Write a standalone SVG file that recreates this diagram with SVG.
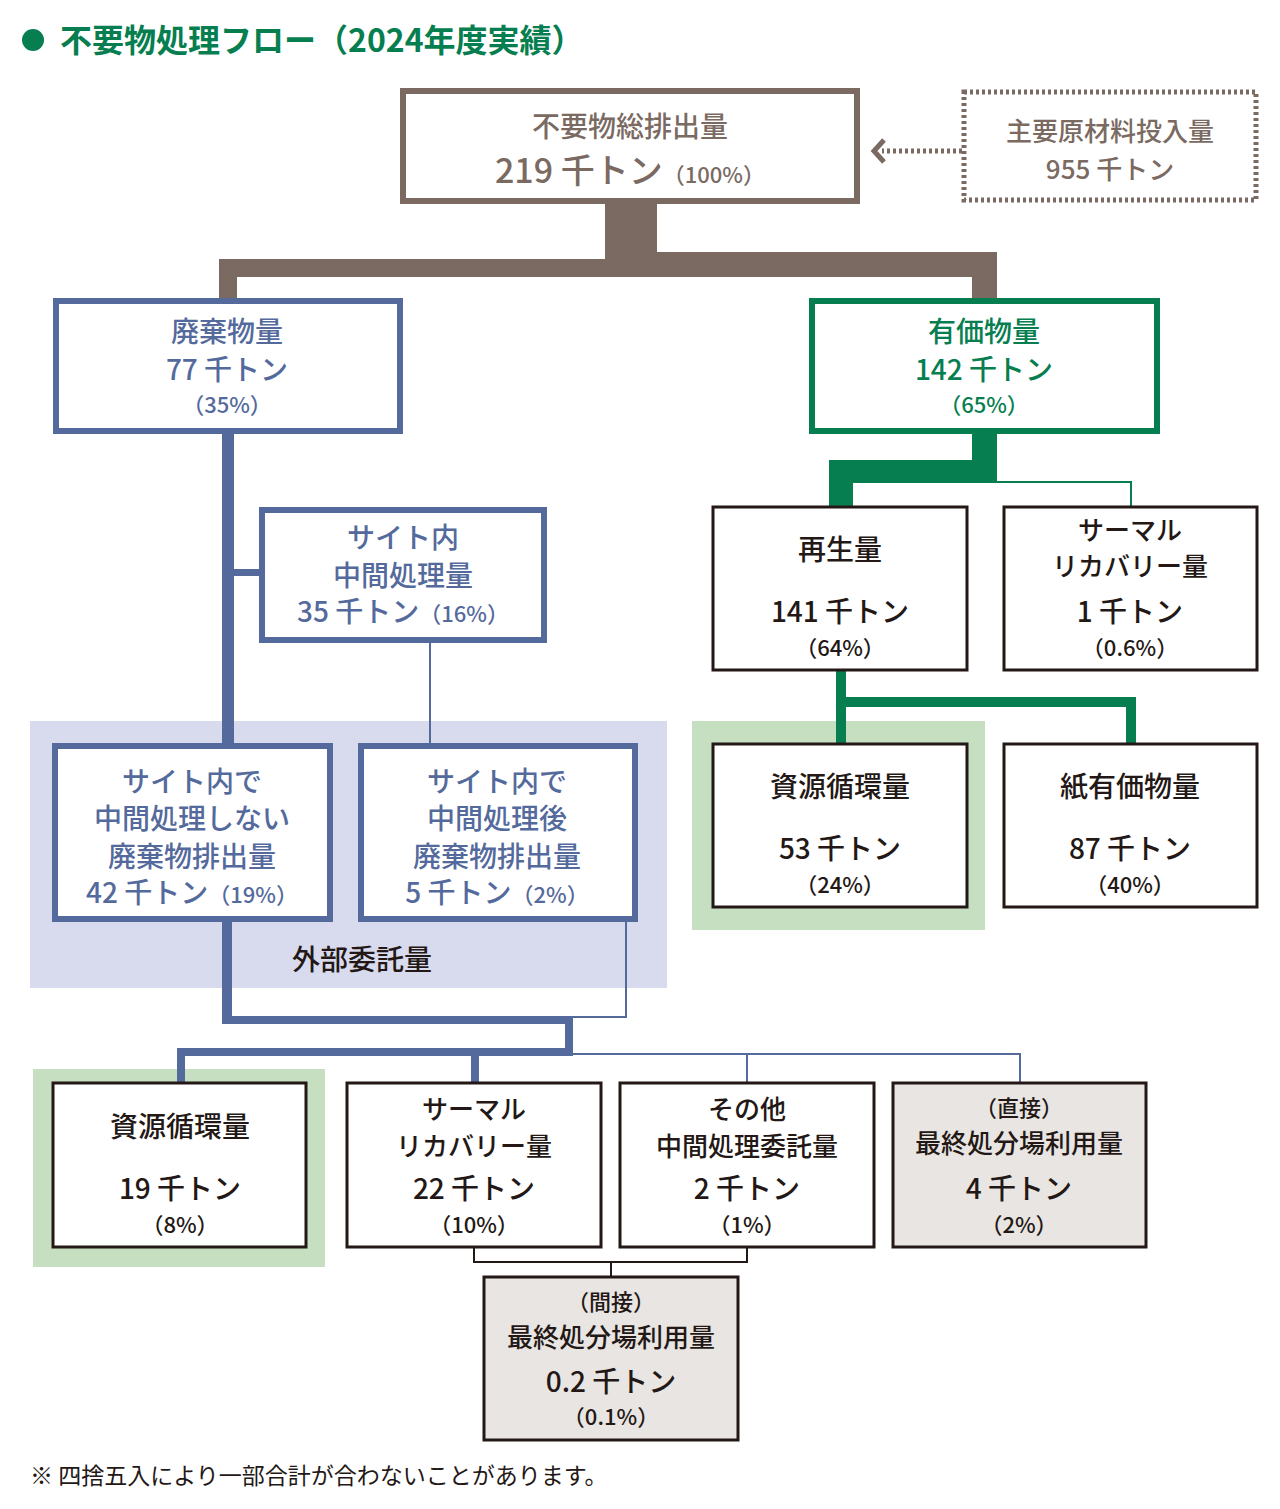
<svg xmlns="http://www.w3.org/2000/svg" width="1280" height="1509" viewBox="0 0 1280 1509">
<style>
text{font-family:"Noto Sans CJK JP","Noto Sans",sans-serif;text-anchor:middle;font-size:28px;font-weight:500}
.br{fill:#7a6a62}.bl{fill:#556a9c}.gr{fill:#067e4f}.dk{fill:#231815}
.s{font-size:22px}
.t{font-size:26px}
.bx{fill:#fff;stroke:#231815;stroke-width:3}
.gy{fill:#e8e5e2;stroke:#231815;stroke-width:3}
</style>
<rect width="1280" height="1509" fill="#fff"/>
<g id="title"><circle cx="33" cy="40" r="11" fill="#067e4f"/><text x="60" y="52" class="gr" style="text-anchor:start;font-size:32px;font-weight:700">不要物処理フロー（2024年度実績）</text></g>
<g id="bgs"><rect x="30" y="721" width="637" height="267" fill="#d8dbee"/><rect x="692" y="721" width="293" height="209" fill="#c5dfc0"/><rect x="33" y="1069" width="292" height="198" fill="#c5dfc0"/></g>
<g id="connectors">
<polygon class="br" points="605,203 657,203 657,252 997,252 997,298 972,298 972,277 237,277 237,298 219,298 219,259 605,259"/>
<line x1="962" y1="151" x2="882" y2="151" stroke="#7a6a62" stroke-width="5" stroke-dasharray="3 3"/>
<polyline points="884,140 874,151 884,162" fill="none" stroke="#7a6a62" stroke-width="5"/>
<rect class="bl" x="222" y="432" width="12" height="312"/>
<rect class="bl" x="234" y="569" width="26" height="7"/>
<line x1="430" y1="641" x2="430" y2="744" stroke="#556a9c" stroke-width="2"/>
<polygon class="bl" points="222,920 232,920 232,1016 573,1016 573,1056 185,1056 185,1083 177,1083 177,1048 565,1048 565,1024 222,1024"/>
<polyline points="626,920 626,1017 573,1017" fill="none" stroke="#556a9c" stroke-width="2"/>
<rect class="bl" x="471" y="1052" width="8" height="31"/>
<polyline points="573,1054 1020,1054 1020,1083" fill="none" stroke="#556a9c" stroke-width="2"/>
<line x1="747" y1="1054" x2="747" y2="1083" stroke="#556a9c" stroke-width="2"/>
<polygon class="gr" points="972,432 997,432 997,483 853,483 853,507 829,507 829,460 972,460"/>
<polyline points="997,482 1131,482 1131,507" fill="none" stroke="#067e4f" stroke-width="2"/>
<polygon class="gr" points="836,670 846,670 846,697 1136,697 1136,744 1126,744 1126,707 846,707 846,744 836,744"/>
<polyline points="474,1247 474,1262 747,1262 747,1247" fill="none" stroke="#231815" stroke-width="2"/>
<line x1="611" y1="1262" x2="611" y2="1277" stroke="#231815" stroke-width="2"/>
</g>
<g id="total"><rect x="403" y="91" width="454" height="110" fill="#fff" stroke="#7a6a62" stroke-width="6"/><text x="630" y="137" class="br">不要物総排出量</text><text x="630" y="183" class="br" style="font-size:34px">219 千トン<tspan class="s">（100%）</tspan></text></g>
<g id="input"><rect x="964" y="92" width="292" height="108" fill="#fff" stroke="#7a6a62" stroke-width="5" stroke-dasharray="3 3"/><text x="1110" y="141" class="br t">主要原材料投入量</text><text x="1110" y="179" class="br t">955 千トン</text></g>
<g id="waste"><rect x="56" y="301" width="344" height="130" fill="#fff" stroke="#556a9c" stroke-width="6"/><text x="227" y="342" class="bl">廃棄物量</text><text x="227" y="380" class="bl">77 千トン</text><text x="227" y="413" class="bl s">（35%）</text></g>
<g id="valuable"><rect x="812" y="301" width="345" height="130" fill="#fff" stroke="#067e4f" stroke-width="6"/><text x="984" y="342" class="gr">有価物量</text><text x="984" y="380" class="gr">142 千トン</text><text x="984" y="413" class="gr s">（65%）</text></g>
<g id="onsite"><rect x="262" y="510" width="282" height="130" fill="#fff" stroke="#556a9c" stroke-width="6"/><text x="403" y="548" class="bl">サイト内</text><text x="403" y="586" class="bl">中間処理量</text><text x="403" y="622" class="bl">35 千トン<tspan class="s">（16%）</tspan></text></g>
<g id="nonproc"><rect x="55" y="746" width="275" height="173" fill="#fff" stroke="#556a9c" stroke-width="6"/><text x="192" y="792" class="bl">サイト内で</text><text x="192" y="829" class="bl">中間処理しない</text><text x="192" y="867" class="bl">廃棄物排出量</text><text x="192" y="903" class="bl">42 千トン<tspan class="s">（19%）</tspan></text></g>
<g id="postproc"><rect x="361" y="746" width="274" height="173" fill="#fff" stroke="#556a9c" stroke-width="6"/><text x="497" y="792" class="bl">サイト内で</text><text x="497" y="829" class="bl">中間処理後</text><text x="497" y="867" class="bl">廃棄物排出量</text><text x="497" y="903" class="bl">5 千トン<tspan class="s">（2%）</tspan></text></g>
<text x="362" y="970" class="dk">外部委託量</text>
<g id="regen"><rect class="bx" x="713" y="507" width="254" height="163"/><text x="840" y="560" class="dk">再生量</text><text x="840" y="622" class="dk">141 千トン</text><text x="840" y="656" class="dk s">（64%）</text></g>
<g id="thermal1"><rect class="bx" x="1004" y="507" width="253" height="163"/><text x="1130" y="540" class="dk t">サーマル</text><text x="1130" y="576" class="dk t">リカバリー量</text><text x="1130" y="622" class="dk">1 千トン</text><text x="1130" y="656" class="dk s">（0.6%）</text></g>
<g id="recycle1"><rect class="bx" x="713" y="744" width="254" height="163"/><text x="840" y="797" class="dk">資源循環量</text><text x="840" y="859" class="dk">53 千トン</text><text x="840" y="893" class="dk s">（24%）</text></g>
<g id="paper"><rect class="bx" x="1004" y="744" width="253" height="163"/><text x="1130" y="797" class="dk">紙有価物量</text><text x="1130" y="859" class="dk">87 千トン</text><text x="1130" y="893" class="dk s">（40%）</text></g>
<g id="recycle2"><rect class="bx" x="53" y="1083" width="253" height="164"/><text x="180" y="1137" class="dk">資源循環量</text><text x="180" y="1199" class="dk">19 千トン</text><text x="180" y="1233" class="dk s">（8%）</text></g>
<g id="thermal2"><rect class="bx" x="347" y="1083" width="254" height="164"/><text x="474" y="1119" class="dk t">サーマル</text><text x="474" y="1156" class="dk t">リカバリー量</text><text x="474" y="1199" class="dk">22 千トン</text><text x="474" y="1233" class="dk s">（10%）</text></g>
<g id="other"><rect class="bx" x="620" y="1083" width="254" height="164"/><text x="747" y="1119" class="dk t">その他</text><text x="747" y="1156" class="dk t">中間処理委託量</text><text x="747" y="1199" class="dk">2 千トン</text><text x="747" y="1233" class="dk s">（1%）</text></g>
<g id="direct"><rect class="gy" x="893" y="1083" width="253" height="164"/><text x="1019" y="1116" class="dk s">（直接）</text><text x="1019" y="1153" class="dk t">最終処分場利用量</text><text x="1019" y="1199" class="dk">4 千トン</text><text x="1019" y="1233" class="dk s">（2%）</text></g>
<g id="indirect"><rect class="gy" x="484" y="1277" width="254" height="163"/><text x="611" y="1310" class="dk s">（間接）</text><text x="611" y="1347" class="dk t">最終処分場利用量</text><text x="611" y="1392" class="dk">0.2 千トン</text><text x="611" y="1425" class="dk s">（0.1%）</text></g>
<text x="30" y="1484" class="dk" style="text-anchor:start;font-size:23px;font-weight:400">※ 四捨五入により一部合計が合わないことがあります。</text>
</svg>
